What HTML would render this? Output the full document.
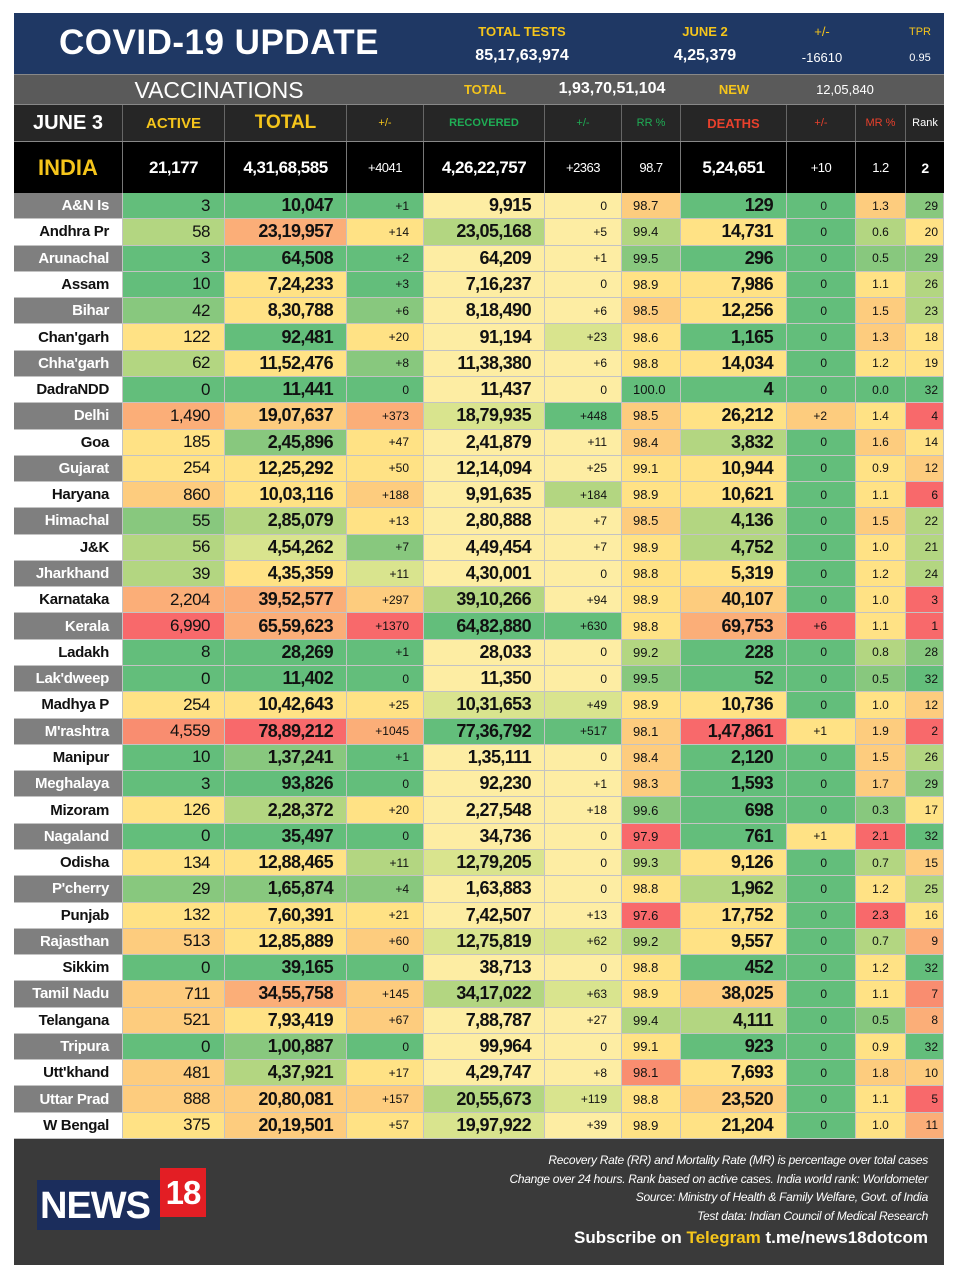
<!DOCTYPE html>
<html><head><meta charset="utf-8"><style>
*{margin:0;padding:0;box-sizing:border-box}
body{width:959px;height:1280px;background:#fff;position:relative;font-family:"Liberation Sans",sans-serif;overflow:hidden}
.abs{position:absolute}
#hdr{left:14px;top:13px;width:930px;height:61px;background:#1f3864}
#vac{left:14px;top:74px;width:930px;height:30px;background:#5a5a5a;border-top:1px solid #888}
#ch{left:14px;top:104px;width:930px;height:37px;background:#262626;border-top:1px solid #888}
#ind{left:14px;top:141px;width:930px;height:52px;background:#000;border-top:1px solid #888}
.t{position:absolute;white-space:nowrap;transform:translateX(-50%);font-weight:bold}
.yl{color:#f5c51b}.wh{color:#fff}.gr{color:#1fae55}.rd{color:#e8402c}
.row{position:absolute;display:grid;grid-template-columns:109px 102px 122px 77px 121px 77px 59px 106px 69px 50px 38px}
#ind .row{left:0;top:0;height:51px;width:930px}
#ind .row div{border-right:1px solid #777;display:flex;align-items:center;justify-content:center;color:#fff;font-weight:bold;font-size:17px;letter-spacing:-.5px}
#ch .row{left:0;top:0;height:36px;width:930px}
#ch .row div{border-right:1px solid #666;display:flex;align-items:center;justify-content:center;font-weight:bold}
#grid{position:absolute;left:14px;top:193px;width:930px;height:946px;display:grid;grid-template-columns:109px 102px 122px 77px 121px 77px 59px 106px 69px 50px 38px;grid-template-rows:repeat(36,1fr)}
#grid div{display:flex;align-items:center;justify-content:flex-end;border-right:1px solid #c3c3c3;border-bottom:1px solid #c3c3c3;color:#111;white-space:nowrap}
#grid div:nth-child(11n+1){font-weight:bold;font-size:15px;padding-right:13px;letter-spacing:-.3px}
#grid div:nth-child(11n+2){font-size:17px;padding-right:14px;letter-spacing:-.5px}
#grid div:nth-child(11n+3),#grid div:nth-child(11n+5),#grid div:nth-child(11n+8){font-weight:bold;font-size:18px;padding-right:13px;letter-spacing:-.6px}
#grid div:nth-child(11n+4),#grid div:nth-child(11n+6){font-size:12px;padding-right:14px}
#grid div:nth-child(11n+7){font-size:13px;justify-content:flex-start;padding-left:11px}
#grid div:nth-child(11n+9){font-size:12px;padding-right:28px}
#grid div:nth-child(11n+10){font-size:12px;justify-content:center}
#grid div:nth-child(11n){font-size:12px;padding-right:5px}
.s1{background:#7f7f7f;color:#fff!important}.s2{background:#fff}
.a{background:#63be7b}.b{background:#88c87e}.c{background:#b3d681}.d{background:#d9e48e}.e{background:#fdeda3}.f{background:#ffe285}.h{background:#fdcc7e}.i{background:#fbae78}.j{background:#f98d70}.k{background:#f8696b}
#foot{left:14px;top:1139px;width:930px;height:126px;background:#3a3a3a}
.fl{position:absolute;right:16px;color:#fff;font-style:italic;font-size:12px;letter-spacing:-.3px;white-space:nowrap}
</style></head><body>
<div id="hdr" class="abs">
<div class="t wh" style="left:205px;top:10px;font-size:35px;letter-spacing:.5px">COVID-19 UPDATE</div>
<div class="t yl" style="left:508px;top:11px;font-size:13px">TOTAL TESTS</div>
<div class="t wh" style="left:508px;top:34px;font-size:16px">85,17,63,974</div>
<div class="t yl" style="left:691px;top:11px;font-size:13px">JUNE 2</div>
<div class="t wh" style="left:691px;top:34px;font-size:16px">4,25,379</div>
<div class="t yl" style="left:808px;top:11px;font-size:13px;font-weight:normal">+/-</div>
<div class="t wh" style="left:808px;top:37px;font-size:13px;font-weight:normal">-16610</div>
<div class="t yl" style="left:906px;top:13px;font-size:11px;font-weight:normal">TPR</div>
<div class="t wh" style="left:906px;top:39px;font-size:11px;font-weight:normal">0.95</div>
</div>
<div id="vac" class="abs">
<div class="t wh" style="left:205px;top:2px;font-size:23px;font-weight:normal">VACCINATIONS</div>
<div class="t yl" style="left:471px;top:7px;font-size:13px">TOTAL</div>
<div class="t wh" style="left:598px;top:5px;font-size:16px">1,93,70,51,104</div>
<div class="t yl" style="left:720px;top:7px;font-size:13px">NEW</div>
<div class="t wh" style="left:831px;top:7px;font-size:13px;font-weight:normal">12,05,840</div>
</div>
<div id="ch" class="abs"><div class="row">
<div class="wh" style="font-size:20px">JUNE 3</div>
<div class="yl" style="font-size:15px">ACTIVE</div>
<div class="yl" style="font-size:19px">TOTAL</div>
<div class="yl" style="font-size:11px;font-weight:normal">+/-</div>
<div class="gr" style="font-size:11px">RECOVERED</div>
<div class="gr" style="font-size:11px;font-weight:normal">+/-</div>
<div class="gr" style="font-size:11px;font-weight:normal">RR %</div>
<div class="rd" style="font-size:13px">DEATHS</div>
<div class="rd" style="font-size:11px;font-weight:normal">+/-</div>
<div class="rd" style="font-size:11px;font-weight:normal">MR %</div>
<div class="wh" style="font-size:11px;font-weight:normal;border:none">Rank</div>
</div></div>
<div id="ind" class="abs"><div class="row">
<div style="color:#f5c51b;font-size:22px;letter-spacing:0">INDIA</div>
<div>21,177</div><div>4,31,68,585</div><div style="font-weight:normal;font-size:13px">+4041</div><div>4,26,22,757</div><div style="font-weight:normal;font-size:13px">+2363</div><div style="font-weight:normal;font-size:13px">98.7</div><div>5,24,651</div><div style="font-weight:normal;font-size:13px">+10</div><div style="font-weight:normal;font-size:13px">1.2</div><div style="font-size:14px;border:none">2</div>
</div></div>
<div id="grid">
<div class="s1">A&amp;N Is</div><div class="a">3</div><div class="a">10,047</div><div class="a">+1</div><div class="e">9,915</div><div class="e">0</div><div class="h">98.7</div><div class="a">129</div><div class="a">0</div><div class="h">1.3</div><div class="b">29</div>
<div class="s2">Andhra Pr</div><div class="c">58</div><div class="i">23,19,957</div><div class="f">+14</div><div class="c">23,05,168</div><div class="e">+5</div><div class="c">99.4</div><div class="f">14,731</div><div class="a">0</div><div class="c">0.6</div><div class="f">20</div>
<div class="s1">Arunachal</div><div class="a">3</div><div class="a">64,508</div><div class="a">+2</div><div class="e">64,209</div><div class="e">+1</div><div class="b">99.5</div><div class="a">296</div><div class="a">0</div><div class="b">0.5</div><div class="b">29</div>
<div class="s2">Assam</div><div class="a">10</div><div class="f">7,24,233</div><div class="a">+3</div><div class="e">7,16,237</div><div class="e">0</div><div class="f">98.9</div><div class="f">7,986</div><div class="a">0</div><div class="f">1.1</div><div class="c">26</div>
<div class="s1">Bihar</div><div class="b">42</div><div class="f">8,30,788</div><div class="b">+6</div><div class="e">8,18,490</div><div class="e">+6</div><div class="h">98.5</div><div class="f">12,256</div><div class="a">0</div><div class="h">1.5</div><div class="c">23</div>
<div class="s2">Chan'garh</div><div class="f">122</div><div class="a">92,481</div><div class="f">+20</div><div class="e">91,194</div><div class="d">+23</div><div class="f">98.6</div><div class="a">1,165</div><div class="a">0</div><div class="h">1.3</div><div class="f">18</div>
<div class="s1">Chha'garh</div><div class="c">62</div><div class="f">11,52,476</div><div class="b">+8</div><div class="e">11,38,380</div><div class="e">+6</div><div class="f">98.8</div><div class="f">14,034</div><div class="a">0</div><div class="f">1.2</div><div class="f">19</div>
<div class="s2">DadraNDD</div><div class="a">0</div><div class="a">11,441</div><div class="a">0</div><div class="e">11,437</div><div class="e">0</div><div class="a">100.0</div><div class="a">4</div><div class="a">0</div><div class="a">0.0</div><div class="a">32</div>
<div class="s1">Delhi</div><div class="i">1,490</div><div class="h">19,07,637</div><div class="i">+373</div><div class="d">18,79,935</div><div class="a">+448</div><div class="h">98.5</div><div class="f">26,212</div><div class="h">+2</div><div class="f">1.4</div><div class="k">4</div>
<div class="s2">Goa</div><div class="f">185</div><div class="b">2,45,896</div><div class="f">+47</div><div class="e">2,41,879</div><div class="e">+11</div><div class="h">98.4</div><div class="c">3,832</div><div class="a">0</div><div class="h">1.6</div><div class="f">14</div>
<div class="s1">Gujarat</div><div class="f">254</div><div class="f">12,25,292</div><div class="f">+50</div><div class="e">12,14,094</div><div class="e">+25</div><div class="f">99.1</div><div class="f">10,944</div><div class="a">0</div><div class="f">0.9</div><div class="h">12</div>
<div class="s2">Haryana</div><div class="h">860</div><div class="f">10,03,116</div><div class="h">+188</div><div class="e">9,91,635</div><div class="c">+184</div><div class="f">98.9</div><div class="f">10,621</div><div class="a">0</div><div class="f">1.1</div><div class="k">6</div>
<div class="s1">Himachal</div><div class="b">55</div><div class="c">2,85,079</div><div class="f">+13</div><div class="e">2,80,888</div><div class="e">+7</div><div class="h">98.5</div><div class="c">4,136</div><div class="a">0</div><div class="h">1.5</div><div class="c">22</div>
<div class="s2">J&amp;K</div><div class="c">56</div><div class="d">4,54,262</div><div class="b">+7</div><div class="e">4,49,454</div><div class="e">+7</div><div class="f">98.9</div><div class="c">4,752</div><div class="a">0</div><div class="f">1.0</div><div class="c">21</div>
<div class="s1">Jharkhand</div><div class="c">39</div><div class="f">4,35,359</div><div class="d">+11</div><div class="e">4,30,001</div><div class="e">0</div><div class="f">98.8</div><div class="f">5,319</div><div class="a">0</div><div class="f">1.2</div><div class="c">24</div>
<div class="s2">Karnataka</div><div class="i">2,204</div><div class="i">39,52,577</div><div class="h">+297</div><div class="c">39,10,266</div><div class="e">+94</div><div class="f">98.9</div><div class="h">40,107</div><div class="a">0</div><div class="f">1.0</div><div class="k">3</div>
<div class="s1">Kerala</div><div class="k">6,990</div><div class="i">65,59,623</div><div class="k">+1370</div><div class="a">64,82,880</div><div class="a">+630</div><div class="f">98.8</div><div class="i">69,753</div><div class="k">+6</div><div class="f">1.1</div><div class="k">1</div>
<div class="s2">Ladakh</div><div class="a">8</div><div class="a">28,269</div><div class="a">+1</div><div class="e">28,033</div><div class="e">0</div><div class="c">99.2</div><div class="a">228</div><div class="a">0</div><div class="c">0.8</div><div class="b">28</div>
<div class="s1">Lak'dweep</div><div class="a">0</div><div class="a">11,402</div><div class="a">0</div><div class="e">11,350</div><div class="e">0</div><div class="b">99.5</div><div class="a">52</div><div class="a">0</div><div class="b">0.5</div><div class="a">32</div>
<div class="s2">Madhya P</div><div class="f">254</div><div class="f">10,42,643</div><div class="f">+25</div><div class="d">10,31,653</div><div class="d">+49</div><div class="f">98.9</div><div class="f">10,736</div><div class="a">0</div><div class="f">1.0</div><div class="h">12</div>
<div class="s1">M'rashtra</div><div class="j">4,559</div><div class="k">78,89,212</div><div class="i">+1045</div><div class="a">77,36,792</div><div class="a">+517</div><div class="h">98.1</div><div class="k">1,47,861</div><div class="f">+1</div><div class="h">1.9</div><div class="k">2</div>
<div class="s2">Manipur</div><div class="a">10</div><div class="b">1,37,241</div><div class="a">+1</div><div class="e">1,35,111</div><div class="e">0</div><div class="h">98.4</div><div class="a">2,120</div><div class="a">0</div><div class="h">1.5</div><div class="c">26</div>
<div class="s1">Meghalaya</div><div class="a">3</div><div class="a">93,826</div><div class="a">0</div><div class="e">92,230</div><div class="e">+1</div><div class="h">98.3</div><div class="a">1,593</div><div class="a">0</div><div class="h">1.7</div><div class="b">29</div>
<div class="s2">Mizoram</div><div class="f">126</div><div class="c">2,28,372</div><div class="f">+20</div><div class="e">2,27,548</div><div class="e">+18</div><div class="b">99.6</div><div class="a">698</div><div class="a">0</div><div class="b">0.3</div><div class="f">17</div>
<div class="s1">Nagaland</div><div class="a">0</div><div class="a">35,497</div><div class="a">0</div><div class="e">34,736</div><div class="e">0</div><div class="k">97.9</div><div class="a">761</div><div class="f">+1</div><div class="k">2.1</div><div class="a">32</div>
<div class="s2">Odisha</div><div class="f">134</div><div class="f">12,88,465</div><div class="c">+11</div><div class="d">12,79,205</div><div class="e">0</div><div class="c">99.3</div><div class="f">9,126</div><div class="a">0</div><div class="c">0.7</div><div class="h">15</div>
<div class="s1">P'cherry</div><div class="b">29</div><div class="b">1,65,874</div><div class="b">+4</div><div class="e">1,63,883</div><div class="e">0</div><div class="f">98.8</div><div class="c">1,962</div><div class="a">0</div><div class="f">1.2</div><div class="c">25</div>
<div class="s2">Punjab</div><div class="f">132</div><div class="f">7,60,391</div><div class="f">+21</div><div class="e">7,42,507</div><div class="e">+13</div><div class="k">97.6</div><div class="f">17,752</div><div class="a">0</div><div class="k">2.3</div><div class="f">16</div>
<div class="s1">Rajasthan</div><div class="h">513</div><div class="f">12,85,889</div><div class="h">+60</div><div class="d">12,75,819</div><div class="d">+62</div><div class="c">99.2</div><div class="f">9,557</div><div class="a">0</div><div class="c">0.7</div><div class="i">9</div>
<div class="s2">Sikkim</div><div class="a">0</div><div class="a">39,165</div><div class="a">0</div><div class="e">38,713</div><div class="e">0</div><div class="f">98.8</div><div class="a">452</div><div class="a">0</div><div class="f">1.2</div><div class="a">32</div>
<div class="s1">Tamil Nadu</div><div class="h">711</div><div class="i">34,55,758</div><div class="h">+145</div><div class="c">34,17,022</div><div class="d">+63</div><div class="f">98.9</div><div class="h">38,025</div><div class="a">0</div><div class="f">1.1</div><div class="j">7</div>
<div class="s2">Telangana</div><div class="h">521</div><div class="f">7,93,419</div><div class="h">+67</div><div class="e">7,88,787</div><div class="e">+27</div><div class="c">99.4</div><div class="c">4,111</div><div class="a">0</div><div class="b">0.5</div><div class="i">8</div>
<div class="s1">Tripura</div><div class="a">0</div><div class="b">1,00,887</div><div class="a">0</div><div class="e">99,964</div><div class="e">0</div><div class="f">99.1</div><div class="a">923</div><div class="a">0</div><div class="f">0.9</div><div class="a">32</div>
<div class="s2">Utt'khand</div><div class="h">481</div><div class="c">4,37,921</div><div class="f">+17</div><div class="e">4,29,747</div><div class="e">+8</div><div class="j">98.1</div><div class="f">7,693</div><div class="a">0</div><div class="h">1.8</div><div class="h">10</div>
<div class="s1">Uttar Prad</div><div class="h">888</div><div class="h">20,80,081</div><div class="h">+157</div><div class="c">20,55,673</div><div class="d">+119</div><div class="f">98.8</div><div class="h">23,520</div><div class="a">0</div><div class="f">1.1</div><div class="k">5</div>
<div class="s2">W Bengal</div><div class="f">375</div><div class="h">20,19,501</div><div class="f">+57</div><div class="d">19,97,922</div><div class="e">+39</div><div class="f">98.9</div><div class="f">21,204</div><div class="a">0</div><div class="f">1.0</div><div class="i">11</div>
</div>
<div id="foot" class="abs">
<div class="abs" style="left:23px;top:41px;width:123px;height:50px;background:#1b2d5c"></div>
<div class="abs" style="left:26px;top:46px;color:#fff;font-weight:bold;font-size:38px;letter-spacing:-1px">NEWS</div>
<div class="abs" style="left:146px;top:29px;width:46px;height:49px;background:#e31e24;color:#fff;font-weight:bold;font-size:33px;text-align:center;line-height:49px;letter-spacing:-1px">18</div>
<div class="fl" style="top:14px">Recovery Rate (RR) and Mortality Rate (MR) is percentage over total cases</div>
<div class="fl" style="top:33px">Change over 24 hours. Rank based on active cases. India world rank: Worldometer</div>
<div class="fl" style="top:51px">Source: Ministry of Health &amp; Family Welfare, Govt. of India</div>
<div class="fl" style="top:70px">Test data: Indian Council of Medical Research</div>
<div class="fl" style="top:89px;font-style:normal;font-weight:bold;font-size:17px;letter-spacing:0">Subscribe on <span style="color:#f5c51b">Telegram</span> t.me/news18dotcom</div>
</div>
</body></html>
